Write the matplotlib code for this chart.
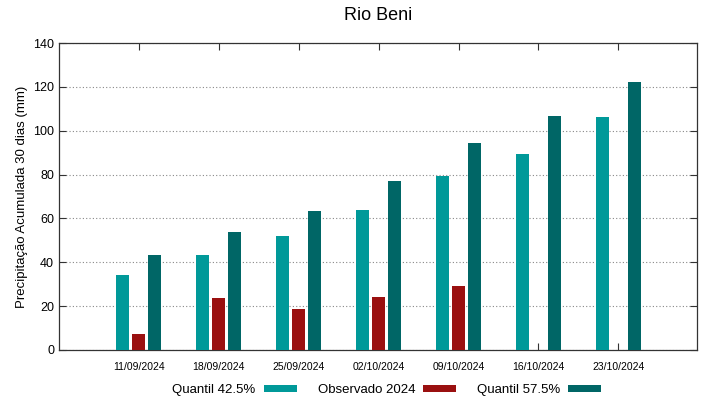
import matplotlib
matplotlib.use("Agg")
import matplotlib.pyplot as plt
import numpy as np

plt.rcParams['font.family'] = ['Liberation Sans', 'DejaVu Sans']

# data
datas = ["11/09/2024", "18/09/2024", "25/09/2024", "02/10/2024",
         "09/10/2024", "16/10/2024", "23/10/2024"]
quantil_425 = [34.1, 43.4, 52.2, 63.8, 79.3, 89.4, 106.1]
observado = [7.2, 23.6, 18.9, 24.0, 29.3]
quantil_575 = [43.4, 53.9, 63.2, 77.1, 94.4, 106.8, 122.3]

c_q1 = "#009999"
c_obs = "#9a1010"
c_q2 = "#006666"

fig = plt.figure(figsize=(7.19, 3.99), dpi=100)
ax = fig.add_axes([0.082, 0.123, 0.887, 0.769])

x = np.arange(len(datas))
w = 0.16
b1 = ax.bar(x - 0.2, quantil_425, w, color=c_q1, label="Quantil 42.5%", zorder=3)
b2 = ax.bar(np.arange(len(observado)), observado, w, color=c_obs,
            label="Observado 2024", zorder=3)
b3 = ax.bar(x + 0.2, quantil_575, w, color=c_q2, label="Quantil 57.5%", zorder=3)

ax.set_xlim(-1, 6.98)
ax.set_ylim(0, 140)
ax.set_yticks(range(0, 141, 20))
ax.set_xticks(x)
ax.set_xticklabels(datas, fontsize=7.5)
ax.tick_params(axis='y', labelsize=9)
ax.tick_params(direction='in', top=True, right=True, length=5, width=0.8,
               colors='#333333', labelcolor='black')
ax.tick_params(axis='x', pad=9)
ax.yaxis.grid(True, linestyle=(0, (1, 2)), color='#888888', linewidth=0.8)
for s in ax.spines.values():
    s.set_color('#333333')
    s.set_linewidth(0.9)

ax.set_ylabel("Precipitação Acumulada 30 dias (mm)", fontsize=9.5)
fig.text(0.526, 0.96, "Rio Beni", fontsize=13, ha='center', va='center')

fig.legend(handles=[b1, b2, b3], loc='lower center', bbox_to_anchor=(0.538, -0.022),
           ncol=3, frameon=False, markerfirst=False, fontsize=9.5,
           handlelength=2.5, handleheight=0.4, columnspacing=1.6,
           handletextpad=0.6)

fig.savefig("out.png", dpi=100)
